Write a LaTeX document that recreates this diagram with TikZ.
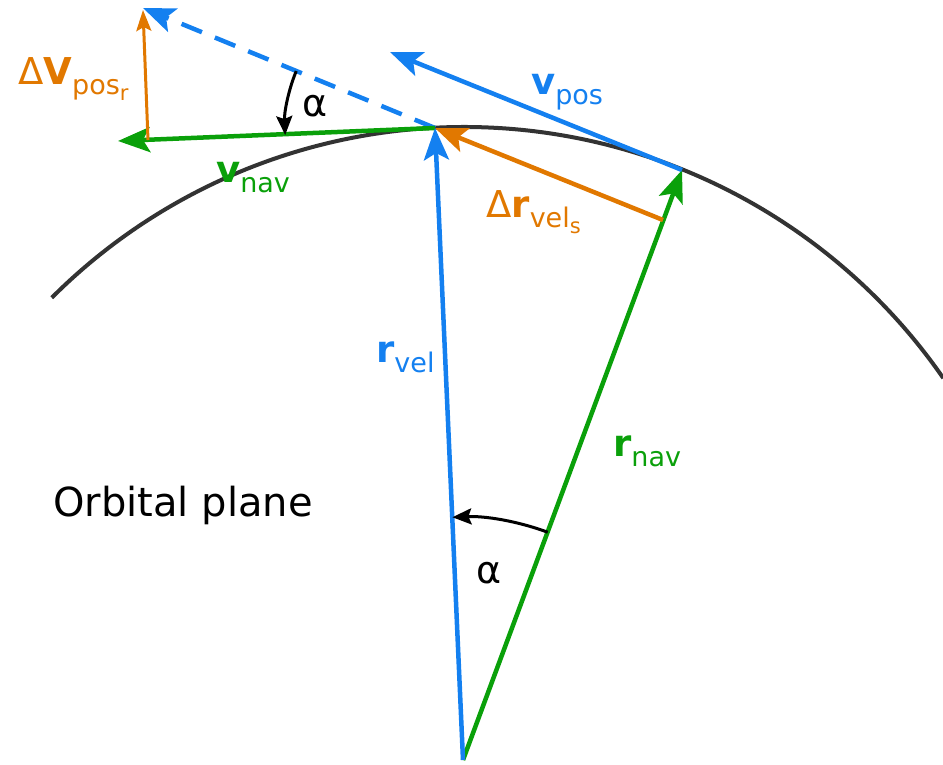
\documentclass[tikz,border=0pt]{standalone}
\usepackage{fontspec}
\setmainfont{DejaVu Sans}
\usetikzlibrary{arrows.meta}
\definecolor{cblue}{RGB}{20,128,240}
\definecolor{cgreen}{RGB}{10,160,10}
\definecolor{corange}{RGB}{225,120,0}
\definecolor{carc}{RGB}{51,51,51}
\newcommand\mainsz{\fontsize{37}{37}\selectfont}
\newcommand\subsz{\fontsize{27}{27}\selectfont}
\newcommand\subsubsz{\fontsize{21}{21}\selectfont}
\begin{document}
\begin{tikzpicture}[x=1pt,y=1pt,
  vecarrow/.style={line width=4.5pt,-{Stealth[length=32pt,width=25pt,inset=7pt]}},
  thinarrow/.style={line width=3pt,-{Stealth[length=21pt,width=15pt,inset=4pt]}},
  anglearc/.style={line width=3pt,black,-{Stealth[length=19pt,width=16pt,inset=3pt]}},
  lbl/.style={inner sep=0pt,anchor=base west},
  alphalbl/.style={inner sep=0pt,anchor=base,font=\fontsize{38}{38}\selectfont}]
\useasboundingbox (0,0) rectangle (943,764);
% points
\coordinate (C) at (464,54);
\coordinate (O) at (463,4);
\coordinate (Rvel) at (435,636);
\coordinate (Rnav) at (682,594);
\coordinate (Vpos) at (390,712);
\coordinate (DRs) at (663,544);
\coordinate (Vnav) at (118,623);
\coordinate (Foot) at (148,624);
\coordinate (Dtip) at (143,756);
\coordinate (Otip) at (143,754);
% orbit arc
\draw[carc,line width=4pt] (C) ++(135:583) arc[start angle=135,end angle=34.7,radius=583];
% dashed rotated velocity
\draw[cblue,vecarrow,dash pattern=on 22pt off 14pt] (Rvel) -- (Dtip);
% v_nav
\draw[cgreen,vecarrow] (Rvel) -- (Vnav);
% Delta V_pos_r
\draw[corange,thinarrow] (Foot) -- (Otip);
% r_nav
\draw[cgreen,vecarrow] (O) -- (Rnav);
% v_pos
\draw[cblue,vecarrow] (Rnav) -- (Vpos);
% Delta r_vel_s
\draw[corange,vecarrow] (DRs) -- (Rvel);
% r_vel
\draw[cblue,vecarrow] (O) -- (Rvel);
% angle arcs
\draw[anglearc] (Rvel) ++(157.7:150) arc[start angle=157.7,end angle=182.7,radius=150];
\draw[anglearc] (O) ++(69.6:243) arc[start angle=69.6,end angle=92.5,radius=243];
% labels
\node[lbl,text=cblue] (lrvel) at (376,401) {{\mainsz\bfseries r}\raisebox{-10pt}{\subsz vel}};
\node[lbl,text=cgreen] (lrnav) at (613,307) {{\mainsz\bfseries r}\raisebox{-10pt}{\subsz nav}};
\node[lbl,text=cblue] (lvpos) at (531,669) {{\mainsz\bfseries v}\raisebox{-10pt}{\subsz pos}};
\node[lbl,text=cgreen] (lvnav) at (216,581) {{\mainsz\bfseries v}\raisebox{-10pt}{\subsz nav}};
\node[lbl,text=corange] (ldr) at (486,546) {{\mainsz Δ\textbf{r}}\raisebox{-10pt}{\subsz vel\raisebox{-6pt}{\subsubsz s}}};
\node[lbl,text=corange] (ldv) at (18,679) {{\mainsz Δ\textbf{V}}\raisebox{-10pt}{\subsz pos\raisebox{-6pt}{\subsubsz r}}};
\node[lbl,font=\fontsize{40}{40}\selectfont] (lorb) at (53,247) {Orbital plane};
\node[alphalbl] (la1) at (315,647) {α};
\node[alphalbl] (la2) at (489,181) {α};
\end{tikzpicture}
\end{document}
